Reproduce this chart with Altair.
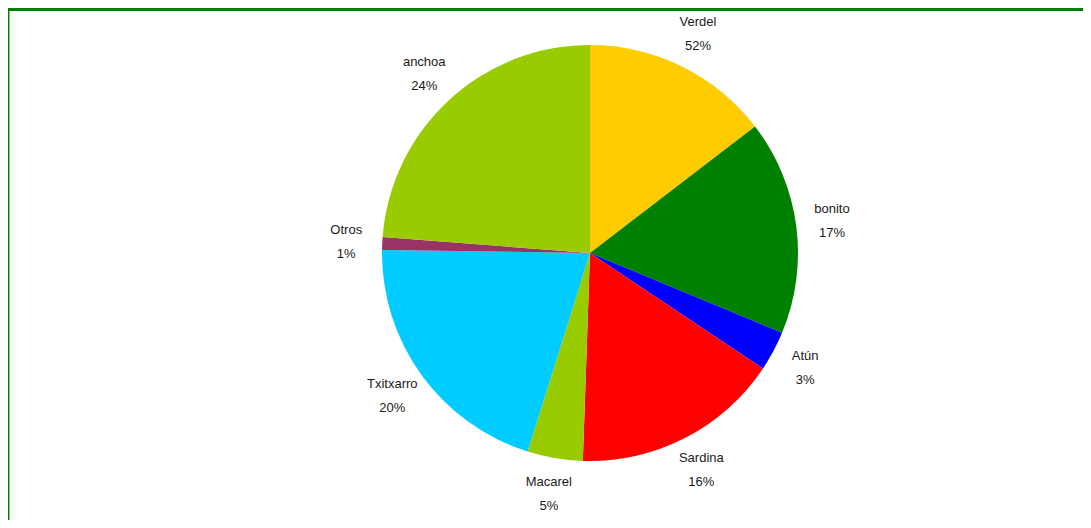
import altair as alt
import pandas as pd

species = ["Verdel", "bonito", "Atún", "Sardina", "Macarel", "Txitxarro", "Otros", "anchoa"]
shares = [14.6, 16.7, 3.1, 16.2, 4.3, 20.4, 1.0, 23.8]
pct_labels = ["52%", "17%", "3%", "16%", "5%", "20%", "1%", "24%"]
colors = ["#FFCC00", "#008000", "#0000FF", "#FF0000", "#99CC00", "#00CCFF", "#993366", "#99CC00"]

df = pd.DataFrame({
    "especie": species,
    "valor": shares,
    "pct": pct_labels,
    "orden": list(range(len(species))),
})
df["etiqueta"] = df["especie"] + "\n" + df["pct"]

W, H = 1075, 512
CX, CY = 582, 245

base = alt.Chart(df).encode(
    theta=alt.Theta("valor:Q", stack=True),
    order=alt.Order("orden:Q"),
)

arcs = base.mark_arc(outerRadius=208).encode(
    color=alt.Color("especie:N", scale=alt.Scale(domain=species, range=colors), legend=None),
    x=alt.value(CX), y=alt.value(CY),
)

texts = base.mark_text(
    radius=244, align="center", baseline="middle", lineBreak="\n", dy=-12,
    font="Liberation Sans", fontSize=13, lineHeight=24, color="#1a1a1a",
).encode(
    text="etiqueta:N",
    x=alt.value(CX), y=alt.value(CY),
)

frame_df = pd.DataFrame({"k": [0]})
left_line = alt.Chart(frame_df).mark_rule(color="#008000", strokeWidth=3).encode(
    x=alt.value(0), y=alt.value(0), y2=alt.value(H + 8)
)
top_line = alt.Chart(frame_df).mark_rule(color="#008000", strokeWidth=3).encode(
    x=alt.value(-1.5), x2=alt.value(W + 8), y=alt.value(1.5)
)

chart = alt.layer(arcs, texts, left_line, top_line).properties(
    width=W, height=H, padding=0, autosize=alt.AutoSizeParams(type="none"),
).configure_view(stroke=None)

chart.save("out.html", embed_options={"renderer": "svg", "actions": False})
